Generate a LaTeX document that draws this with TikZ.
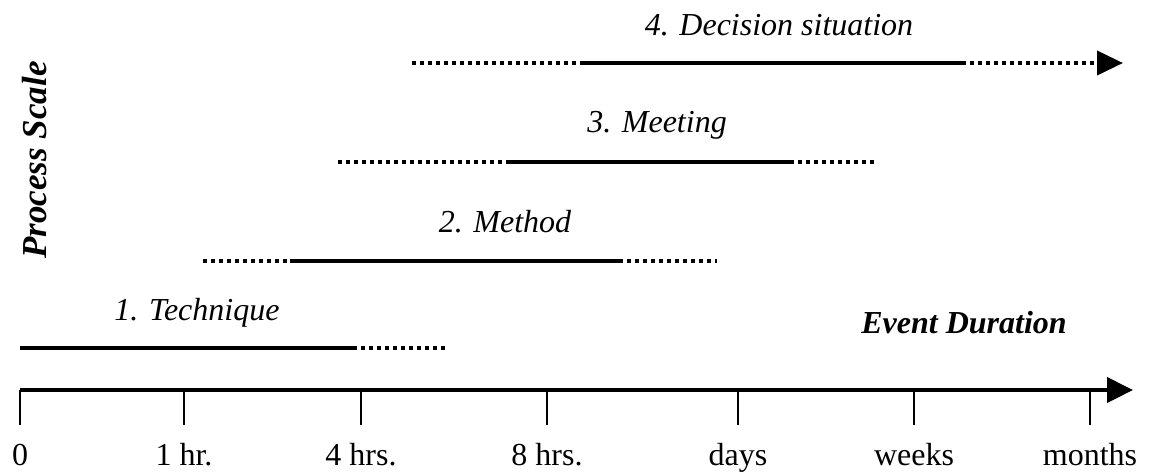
\documentclass[tikz,border=0pt]{standalone}
\usepackage{fontspec}
\setmainfont{Liberation Serif}
\usetikzlibrary{arrows.meta,positioning}
\tikzset{
  spanline/.style={draw=black, line width=2pt},
  dotline/.style={draw=black, line width=2pt, dash pattern=on 2pt off 2pt},
  axisline/.style={draw=black, line width=2pt,
    -{Triangle[length=13pt,width=12.5pt]}},
  tickmark/.style={draw=black, line width=1pt},
  ticklabel/.style={anchor=base, inner sep=0pt,
    font=\fontsize{16}{19}\selectfont},
  phaselabel/.style={anchor=base, inner sep=0pt,
    font=\fontsize{16}{19}\selectfont\itshape},
  axtitle/.style={anchor=base, inner sep=0pt,
    font=\fontsize{16}{19}\selectfont\bfseries\itshape}
}

\begin{document}
\begin{tikzpicture}[x=0.5pt,y=-0.5pt]

  \useasboundingbox (0,0) rectangle (1149,473);

  %% ---- Event duration axis ----
  \coordinate (ax_s) at (20,390);
  \coordinate (ax_e) at (1133,390);
  \draw[axisline] (ax_s) -- (ax_e);

  \foreach \x/\lab/\n in {20/0/k0, 184/1 hr./k1, 361/4 hrs./k2,
      547/8 hrs./k3, 738/days/k4, 914/weeks/k5, 1090/months/k6}{
    \coordinate (\n_t) at (\x,390);
    \coordinate (\n_b) at (\x,425);
    \draw[tickmark] (\n_t) -- (\n_b);
    \node[ticklabel] (\n_l) at (\x,465) {\lab};
  }

  \node[axtitle] (x_title) at (964,333) {Event Duration};
  \node[axtitle, rotate=90, font=\fontsize{17.5}{20}\selectfont\bfseries\itshape]
    (y_title) at (46,160) {Process Scale};

  %% ---- 1. Technique ----
  \coordinate (t_1) at (20,348);
  \coordinate (t_2) at (353,348);
  \coordinate (t_3) at (447,348);
  \draw[spanline] (t_1) -- (t_2);
  \draw[dotline] (t_2) -- (t_3);
  \node[phaselabel] (t_l) at (197,320) {1. Technique};

  %% ---- 2. Method ----
  \coordinate (m_1) at (203,261);
  \coordinate (m_2) at (290,261);
  \coordinate (m_3) at (619,261);
  \coordinate (m_4) at (717,261);
  \draw[dotline] (m_1) -- (m_2);
  \draw[spanline] (m_2) -- (m_3);
  \draw[dotline] (m_3) -- (m_4);
  \node[phaselabel] (m_l) at (505,232) {2. Method};

  %% ---- 3. Meeting ----
  \coordinate (g_1) at (338,162);
  \coordinate (g_2) at (507,162);
  \coordinate (g_3) at (790,162);
  \coordinate (g_4) at (877,162);
  \draw[dotline] (g_1) -- (g_2);
  \draw[spanline] (g_2) -- (g_3);
  \draw[dotline] (g_3) -- (g_4);
  \node[phaselabel] (g_l) at (657,132) {3. Meeting};

  %% ---- 4. Decision situation ----
  \coordinate (d_1) at (412,63);
  \coordinate (d_2) at (580,63);
  \coordinate (d_3) at (962,63);
  \coordinate (d_4) at (1123,63);
  \draw[dotline] (d_1) -- (d_2);
  \draw[spanline] (d_2) -- (d_3);
  \draw[dotline, -{Triangle[length=13pt,width=12pt]}] (d_3) -- (d_4);
  \node[phaselabel] (d_l) at (779,35) {4. Decision situation};

\end{tikzpicture}
\end{document}
